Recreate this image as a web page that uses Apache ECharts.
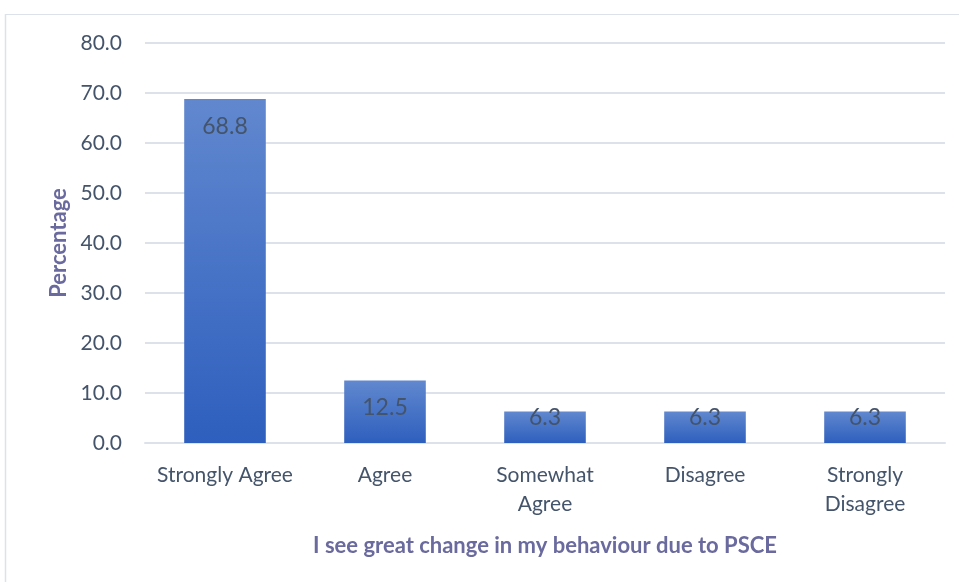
<!DOCTYPE html>
<html>
<head>
<meta charset="utf-8">
<script src="https://cdn.jsdelivr.net/npm/echarts@6/dist/echarts.min.js"></script>
<style>
  html, body { margin: 0; padding: 0; background: #fff; }
  #chart { width: 959px; height: 582px; }
</style>
</head>
<body>
<div id="chart"></div>
<script>
// survey answers
var categories = ['Strongly Agree', 'Agree', 'Somewhat\nAgree', 'Disagree', 'Strongly\nDisagree'];
var percentages = [68.8, 12.5, 6.3, 6.3, 6.3];

var fontFamily = 'Lato, "Open Sans", sans-serif';
var textColor = '#44546a';
var titleColor = '#6a6a9e';

var chart = echarts.init(document.getElementById('chart'));

var option = {
    backgroundColor: '#fff',
    animation: false,
    grid: {
        left: 145,
        right: 14,
        top: 43,
        bottom: 139
    },
    xAxis: {
        type: 'category',
        data: categories,
        name: 'I see great change in my behaviour due to PSCE',
        nameLocation: 'middle',
        nameGap: 92,
        nameTextStyle: {
            color: titleColor,
            fontFamily: fontFamily,
            fontSize: 22,
            fontWeight: 'bold'
        },
        axisLine: { show: true, lineStyle: { color: '#dde2ea', width: 2 } },
        axisTick: { show: false },
        axisLabel: {
            color: textColor,
            fontFamily: fontFamily,
            fontSize: 21,
            lineHeight: 29,
            margin: 18,
            interval: 0
        }
    },
    yAxis: {
        type: 'value',
        min: 0,
        max: 80,
        interval: 10,
        name: 'Percentage',
        nameLocation: 'middle',
        nameGap: 74,
        nameTextStyle: {
            color: titleColor,
            fontFamily: fontFamily,
            fontSize: 22,
            fontWeight: 'bold'
        },
        axisLine: { show: false },
        axisTick: { show: false },
        splitLine: { lineStyle: { color: '#dde2ea', width: 2 } },
        axisLabel: {
            color: textColor,
            fontFamily: fontFamily,
            fontSize: 21,
            margin: 23,
            formatter: function (v) { return v.toFixed(1); }
        }
    },
    series: [{
        type: 'bar',
        data: percentages,
        barWidth: '51%',
        itemStyle: {
            color: new echarts.graphic.LinearGradient(0, 0, 0, 1, [
                { offset: 0, color: '#6188cf' },
                { offset: 1, color: '#2e5fbe' }
            ])
        },
        label: {
            show: true,
            position: 'insideTop',
            distance: 16,
            color: '#44546a',
            fontFamily: fontFamily,
            fontSize: 23,
            formatter: function (p) { return p.value.toFixed(1); }
        }
    }],
    graphic: [
        { type: 'line', shape: { x1: 5, y1: 14.5, x2: 959, y2: 14.5 }, style: { stroke: '#dde2ea', lineWidth: 1 } },
        { type: 'line', shape: { x1: 5.5, y1: 14, x2: 5.5, y2: 582 }, style: { stroke: '#dde2ea', lineWidth: 1.5 } }
    ]
};

chart.setOption(option);

// short bars: keep the label from dropping below the axis (like Excel does)
var base = chart.convertToPixel({ yAxisIndex: 0 }, 0);
var items = percentages.map(function (v) {
    var h = base - chart.convertToPixel({ yAxisIndex: 0 }, v);
    return { value: v, label: { distance: Math.min(16, h - 37) } };
});
chart.setOption({ series: [{ data: items }] });
</script>
</body>
</html>
